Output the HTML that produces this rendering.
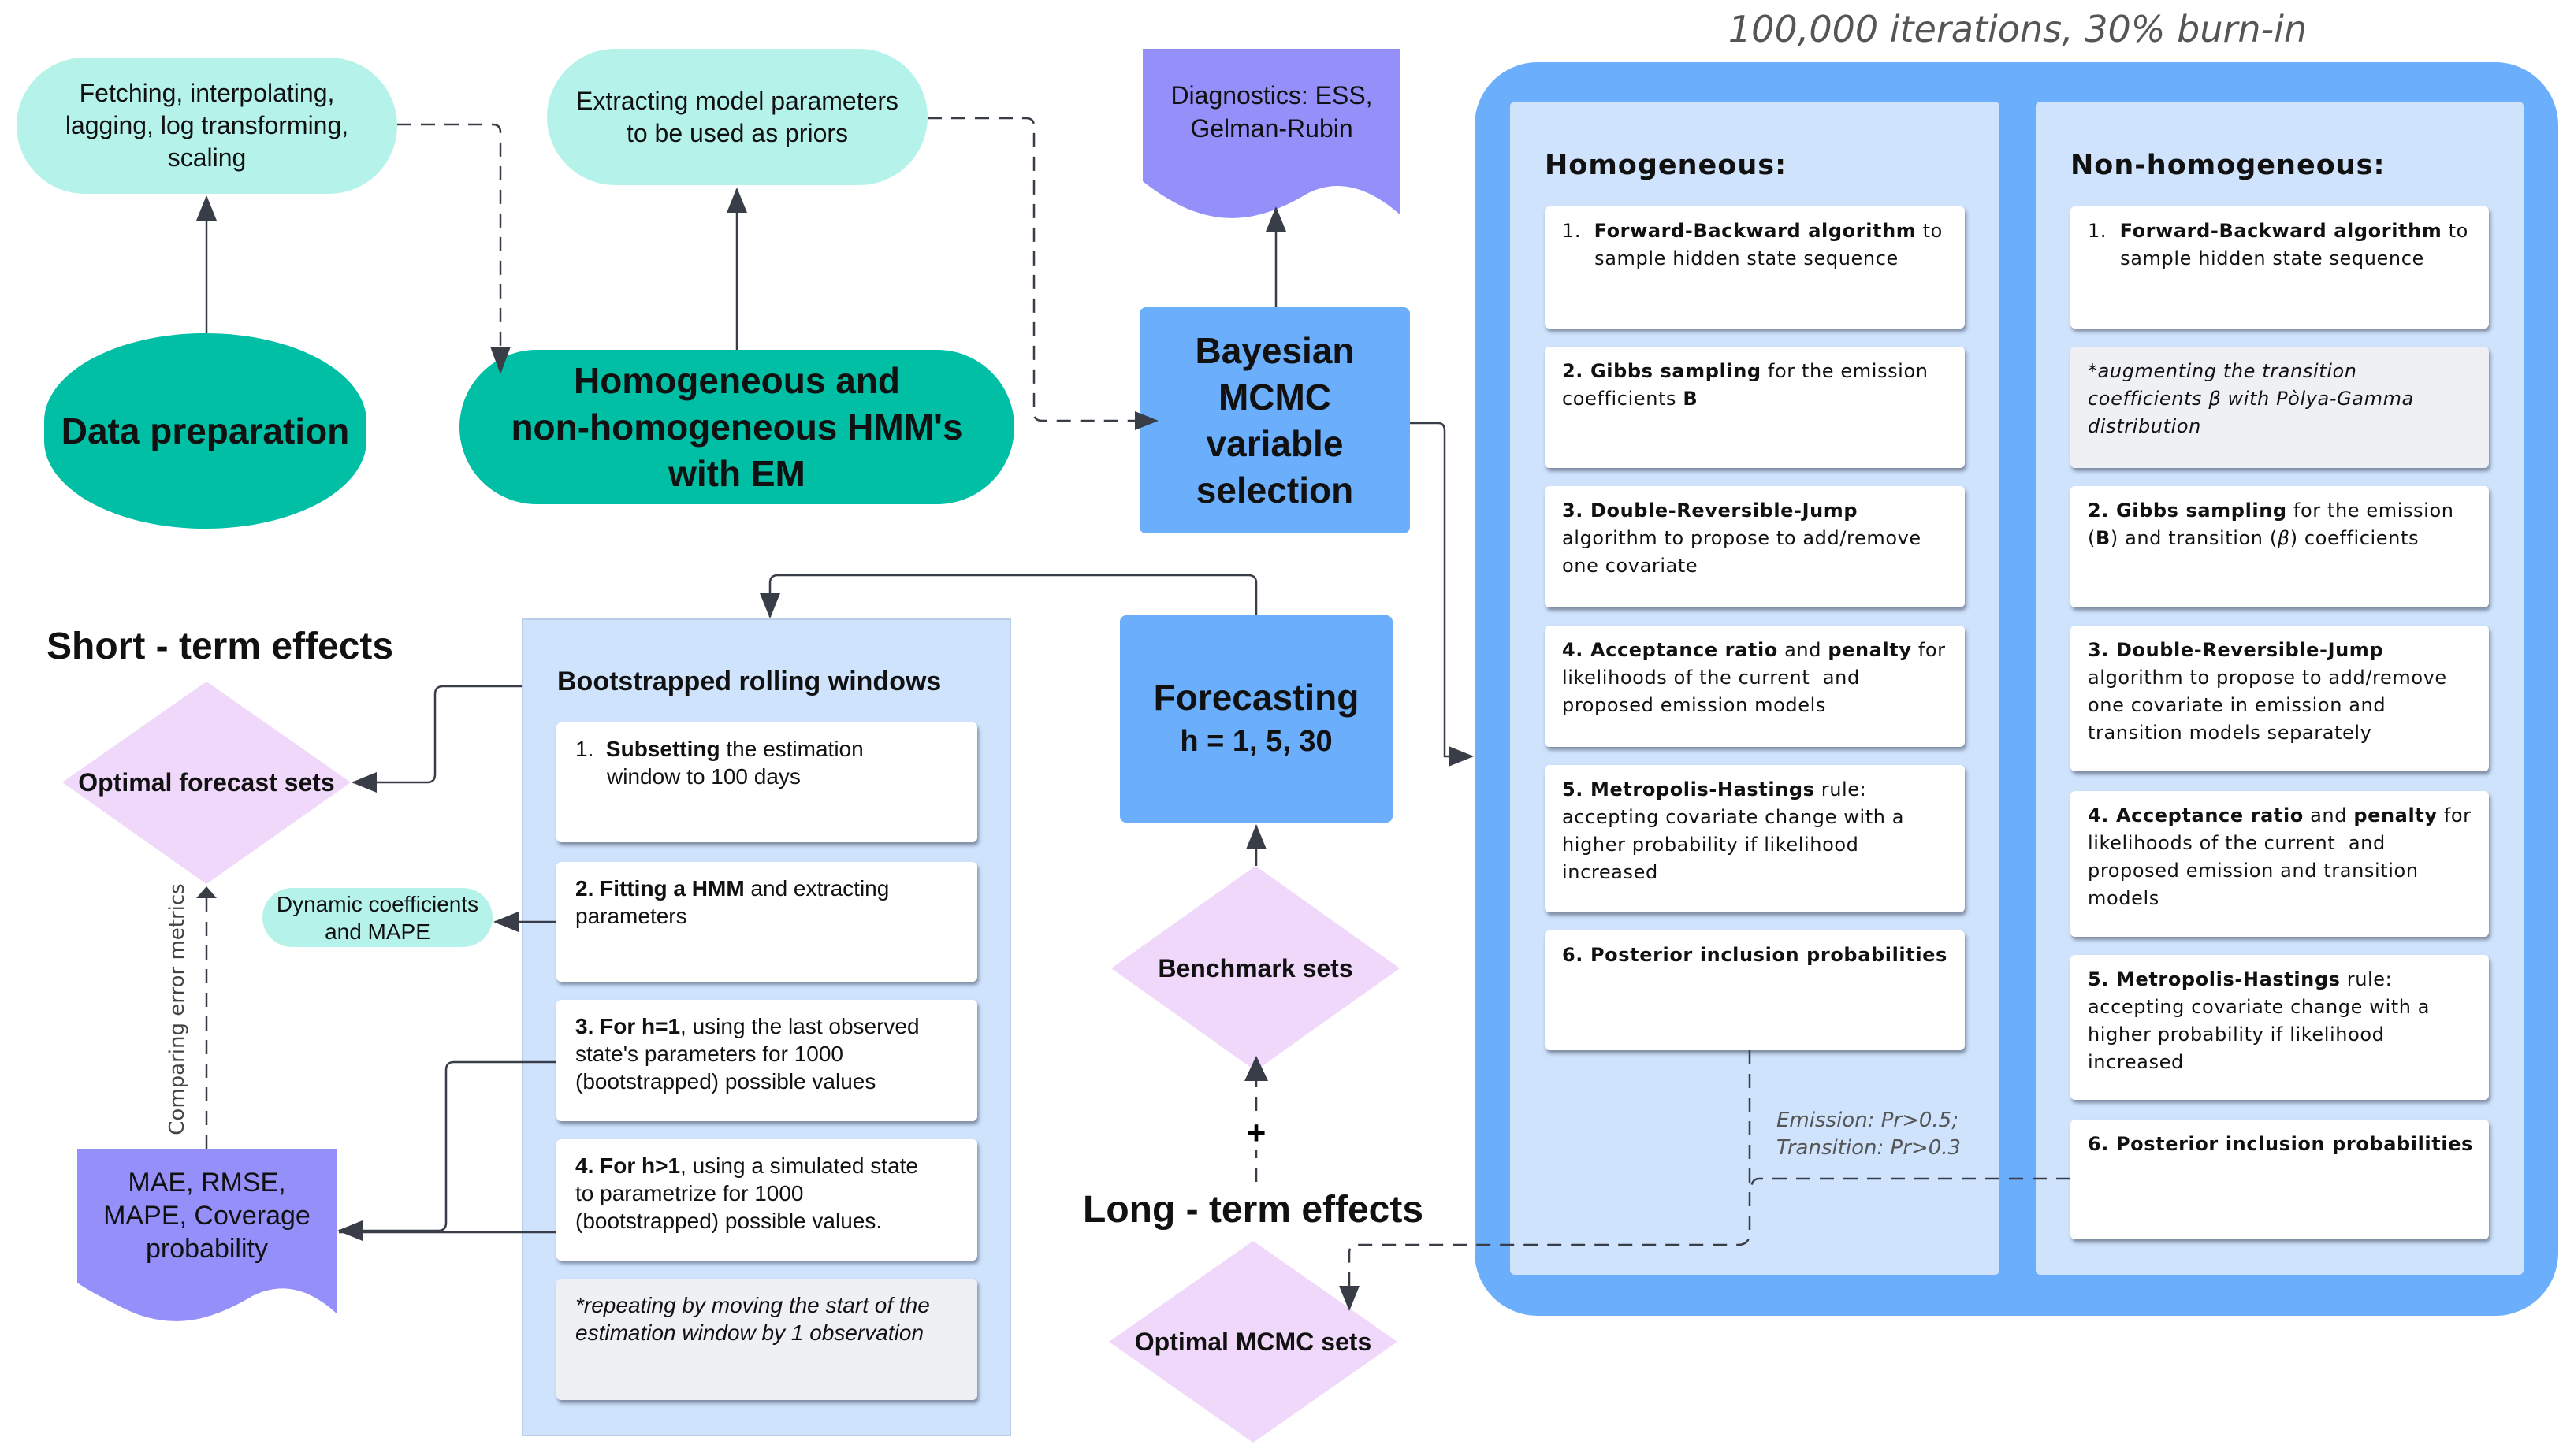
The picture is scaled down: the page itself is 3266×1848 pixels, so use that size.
<!DOCTYPE html>
<html><head><meta charset="utf-8"><style>
html,body{margin:0;padding:0;background:#fff}
#c{position:relative;width:3266px;height:1848px;overflow:hidden;font-family:"Liberation Sans",sans-serif;color:#111}
.a{position:absolute;box-sizing:border-box}
.pill{background:#b5f3ea;border-radius:90px;display:flex;align-items:center;justify-content:center;text-align:center;font-size:32px;line-height:41px}
.green{background:#00bfa5;display:flex;align-items:center;justify-content:center;text-align:center;font-weight:bold}
.blue{background:#6aaefc;border-radius:8px;display:flex;align-items:center;justify-content:center;text-align:center;font-weight:bold}
.panel{background:#cfe3fd}
.bx{background:#fff;border-radius:6px;box-shadow:2px 4px 5px rgba(60,70,90,.55);padding:16px 50px 16px 24px;font-size:28px;line-height:35px}
.gr{background:#eff0f3}
.r .bx{font-family:"DejaVu Sans",sans-serif;font-size:24px;letter-spacing:0.6px;line-height:35px;padding:14px 6px 14px 22px;white-space:nowrap}
.hd{font-family:"DejaVu Sans",sans-serif;font-weight:bold;font-size:35px;letter-spacing:1px}
.lbl{font-weight:bold;text-align:center;display:flex;align-items:center;justify-content:center}
.ind{padding-left:40px;text-indent:-40px}
</style></head><body><div id="c">

<div class="a" style="left:1871px;top:79px;width:1375px;height:1591px;background:#6aaefc;border-radius:80px"></div>
<div class="a panel" style="left:1916px;top:129px;width:621px;height:1489px;border-radius:6px"></div>
<div class="a panel" style="left:2583px;top:129px;width:619px;height:1489px;border-radius:6px"></div>
<div class="a" style="left:2100px;top:10px;width:920px;text-align:center;font-style:italic;font-size:46px;color:#555;font-family:'DejaVu Sans',sans-serif">100,000 iterations, 30% burn-in</div>

<div class="a hd" style="left:1960px;top:190px">Homogeneous:</div>
<div class="a hd" style="left:2627px;top:190px">Non-homogeneous:</div>

<div class="r">
<div class="a bx" style="left:1960px;top:262px;width:533px;height:155px">1.&nbsp; <b>Forward-Backward algorithm</b> to<br>&nbsp;&nbsp;&nbsp;&nbsp;&nbsp;sample hidden state sequence</div>
<div class="a bx" style="left:1960px;top:440px;width:533px;height:154px"><b>2. Gibbs sampling</b> for the emission<br>coefficients <b>B</b></div>
<div class="a bx" style="left:1960px;top:617px;width:533px;height:154px"><b>3. Double-Reversible-Jump</b><br>algorithm to propose to add/remove<br>one covariate</div>
<div class="a bx" style="left:1960px;top:794px;width:533px;height:154px"><b>4. Acceptance ratio</b> and <b>penalty</b> for<br>likelihoods of the current&nbsp; and<br>proposed emission models</div>
<div class="a bx" style="left:1960px;top:971px;width:533px;height:187px"><b>5. Metropolis-Hastings</b> rule:<br>accepting covariate change with a<br>higher probability if likelihood<br>increased</div>
<div class="a bx" style="left:1960px;top:1181px;width:533px;height:152px"><b>6. Posterior inclusion probabilities</b></div>

<div class="a bx" style="left:2627px;top:262px;width:531px;height:155px">1.&nbsp; <b>Forward-Backward algorithm</b> to<br>&nbsp;&nbsp;&nbsp;&nbsp;&nbsp;sample hidden state sequence</div>
<div class="a bx gr" style="left:2627px;top:440px;width:531px;height:154px;font-style:italic">*augmenting the transition<br>coefficients β with Pòlya-Gamma<br>distribution</div>
<div class="a bx" style="left:2627px;top:617px;width:531px;height:154px"><b>2. Gibbs sampling</b> for the emission<br>(<b>B</b>) and transition (<i>β</i>) coefficients</div>
<div class="a bx" style="left:2627px;top:794px;width:531px;height:185px"><b>3. Double-Reversible-Jump</b><br>algorithm to propose to add/remove<br>one covariate in emission and<br>transition models separately</div>
<div class="a bx" style="left:2627px;top:1004px;width:531px;height:185px"><b>4. Acceptance ratio</b> and <b>penalty</b> for<br>likelihoods of the current&nbsp; and<br>proposed emission and transition<br>models</div>
<div class="a bx" style="left:2627px;top:1212px;width:531px;height:184px"><b>5. Metropolis-Hastings</b> rule:<br>accepting covariate change with a<br>higher probability if likelihood<br>increased</div>
<div class="a bx" style="left:2627px;top:1421px;width:531px;height:152px"><b>6. Posterior inclusion probabilities</b></div>
</div>

<div class="a" style="left:2254px;top:1405px;font-family:'DejaVu Sans',sans-serif;font-style:italic;font-size:26px;line-height:35px;color:#555">Emission: Pr&gt;0.5;<br>Transition: Pr&gt;0.3</div>

<div class="a pill" style="left:21px;top:73px;width:483px;height:173px">Fetching, interpolating,<br>lagging, log transforming,<br>scaling</div>
<div class="a pill" style="left:694px;top:62px;width:483px;height:173px">Extracting model parameters<br>to be used as priors</div>
<div class="a green" style="left:56px;top:423px;width:409px;height:248px;border-radius:50%/45%;font-size:46px">Data preparation</div>
<div class="a green" style="left:583px;top:444px;width:704px;height:196px;border-radius:98px;font-size:46px;line-height:59px">Homogeneous and<br>non-homogeneous HMM's<br>with EM</div>
<div class="a blue" style="left:1446px;top:390px;width:343px;height:287px;font-size:46px;line-height:59px">Bayesian<br>MCMC<br>variable<br>selection</div>
<div class="a blue" style="left:1421px;top:781px;width:346px;height:263px;font-size:46px;line-height:56px;flex-direction:column"><div>Forecasting</div><div style="font-size:38px">h = 1, 5, 30</div></div>

<div class="a panel" style="left:662px;top:785px;width:621px;height:1038px;border:2px solid #b8cde8"></div>
<div class="a" style="left:707px;top:846px;font-weight:bold;font-size:34px">Bootstrapped rolling windows</div>
<div class="a bx" style="left:706px;top:917px;width:534px;height:152px;padding-right:70px"><div class="ind" style="padding-left:40px">1.&nbsp; <b>Subsetting</b> the estimation window to 100 days</div></div>
<div class="a bx" style="left:706px;top:1094px;width:534px;height:152px"><b>2. Fitting a HMM</b> and extracting parameters</div>
<div class="a bx" style="left:706px;top:1269px;width:534px;height:154px"><b>3. For h=1</b>, using the last observed state's parameters for 1000 (bootstrapped) possible values</div>
<div class="a bx" style="left:706px;top:1446px;width:534px;height:154px"><b>4. For h&gt;1</b>, using a simulated state<br>to parametrize for 1000<br>(bootstrapped) possible values.</div>
<div class="a bx gr" style="left:706px;top:1623px;width:534px;height:154px;font-style:italic">*repeating by moving the start of the estimation window by 1 observation</div>

<div class="a pill" style="left:333px;top:1127px;width:292px;height:75px;font-size:28px;line-height:35px">Dynamic coefficients<br>and MAPE</div>

<div class="a" style="left:59px;top:793px;font-weight:bold;font-size:48px">Short - term effects</div>
<div class="a" style="left:1374px;top:1508px;font-weight:bold;font-size:48px">Long - term effects</div>

<svg class="a" style="left:0;top:0" width="3266" height="1848" viewBox="0 0 3266 1848">
<defs><marker id="ab" markerWidth="34" markerHeight="26" refX="30" refY="13" orient="auto" markerUnits="userSpaceOnUse"><path d="M0,0 L32,13 L0,26 Z" fill="#383d47"/></marker></defs>
<polygon points="262,865 445,993 262,1122 79,993" fill="#f0d8fb"/>
<polygon points="1593,1099 1776,1229 1593,1359 1410,1229" fill="#f0d8fb"/>
<polygon points="1590,1575 1773,1703 1590,1831 1407,1703" fill="#f0d8fb"/>
<path d="M1450,62 H1777 V273 C1740,240 1700,225 1660,245 C1610,275 1560,290 1500,262 C1480,252 1462,240 1450,230 Z" fill="#958ffa"/>
<path d="M98,1458 H427 V1667 C395,1638 360,1625 320,1645 C270,1675 220,1690 160,1662 C140,1652 115,1640 98,1628 Z" fill="#958ffa"/>
<g stroke="#383d47" stroke-width="2.5" fill="none">
<path d="M262,423 V250" marker-end="url(#ab)"/>
<path d="M935,444 V240" marker-end="url(#ab)"/>
<path d="M1619,390 V264" marker-end="url(#ab)"/>
<path d="M1789,537 H1825 Q1833,537 1833,547 V960 H1868" marker-end="url(#ab)"/>
<path d="M1594,781 V740 Q1594,730 1584,730 H987 Q977,730 977,740 V783" marker-end="url(#ab)"/>
<path d="M1594,1099 V1048" marker-end="url(#ab)"/>
<path d="M662,871 H562 Q552,871 552,881 V983 Q552,993 542,993 H448" marker-end="url(#ab)"/>
<path d="M706,1170 H628" marker-end="url(#ab)"/>
<path d="M706,1348 H576 Q566,1348 566,1358 V1552 Q566,1562 556,1562 H430" marker-end="url(#ab)"/>
<path d="M706,1564 H430"/>
</g>
<g stroke="#383d47" stroke-width="2.5" fill="none" stroke-dasharray="18,12">
<path d="M504,158 H625 Q635,158 635,168 V440" />
<path d="M1177,150 H1302 Q1312,150 1312,160 V524 Q1312,534 1322,534 H1440"/>
<path d="M1594,1500 V1460"/>
<path d="M1594,1410 V1372"/>
<path d="M262,1458 V1140"/>
<path d="M2220,1333 V1565 Q2220,1580 2205,1580 H1722 Q1712,1580 1712,1590 V1640"/>
<path d="M2627,1496 H2232 Q2222,1496 2222,1510"/>
</g>
<g fill="#383d47">
<path d="M622,440 L648,440 L635,475 Z"/>
<path d="M1440,522 L1470,534 L1440,546 Z"/>
<path d="M1579,1372 L1609,1372 L1594,1340 Z"/>
<path d="M249,1140 L275,1140 L262,1125 Z"/>
<path d="M1699,1632 L1725,1632 L1712,1664 Z"/>
</g>
<text x="1594" y="1452" font-family="Liberation Sans" font-weight="bold" font-size="42" text-anchor="middle">+</text>
<text transform="translate(233,1281) rotate(-90)" font-family="DejaVu Sans" font-size="26" fill="#444" text-anchor="middle">Comparing error metrics</text>
</svg>

<div class="a lbl" style="left:79px;top:963px;width:366px;height:60px;font-size:32px">Optimal forecast sets</div>
<div class="a lbl" style="left:1410px;top:1199px;width:366px;height:60px;font-size:32px">Benchmark sets</div>
<div class="a lbl" style="left:1407px;top:1673px;width:366px;height:60px;font-size:32px">Optimal MCMC sets</div>
<div class="a" style="left:1450px;top:100px;width:327px;text-align:center;font-size:32px;line-height:42px">Diagnostics: ESS,<br>Gelman-Rubin</div>
<div class="a" style="left:98px;top:1480px;width:329px;text-align:center;font-size:34px;line-height:42px">MAE, RMSE,<br>MAPE, Coverage<br>probability</div>

</div></body></html>
